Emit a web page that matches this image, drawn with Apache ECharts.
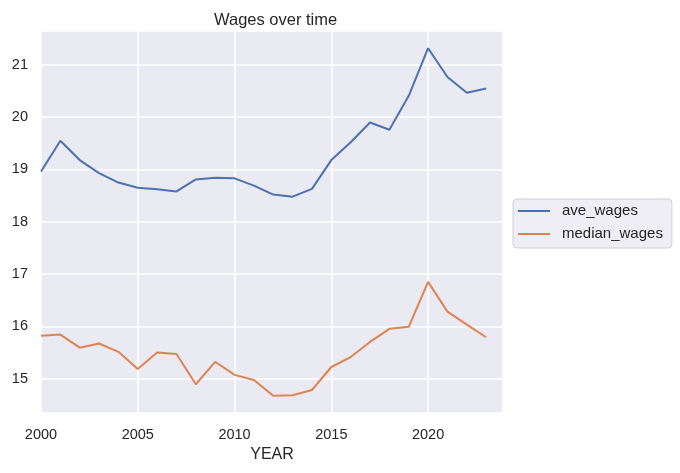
<!DOCTYPE html>
<html>
<head>
<meta charset="utf-8">
<script src="https://cdn.jsdelivr.net/npm/echarts@6/dist/echarts.min.js"></script>
<style>html,body{margin:0;padding:0;background:#fff}#c{width:680px;height:473px}</style>
</head>
<body>
<div id="c"></div>
<script>
var years = [2000,2001,2002,2003,2004,2005,2006,2007,2008,2009,2010,2011,2012,2013,2014,2015,2016,2017,2018,2019,2020,2021,2022,2023];
var aveWages = [18.96,19.55,19.18,18.93,18.75,18.65,18.62,18.58,18.81,18.84,18.83,18.69,18.52,18.48,18.63,19.18,19.52,19.90,19.76,20.41,21.32,20.77,20.47,20.55];
var medianWages = [15.82,15.84,15.59,15.67,15.51,15.18,15.50,15.47,14.89,15.32,15.07,14.97,14.67,14.68,14.78,15.22,15.41,15.70,15.95,15.99,16.85,16.28,16.03,15.79];
var xTicks = [2000,2005,2010,2015,2020];
var yTicks = [15,16,17,18,19,20,21];

var FONT = 'Liberation Sans, Arial, sans-serif';
var TXT = '#262626';
function pairs(vals){ return years.map(function(y,i){ return [y, vals[i]]; }); }

var chart = echarts.init(document.getElementById('c'), null, {renderer:'canvas'});
chart.setOption({
  animation: false,
  backgroundColor: '#ffffff',
  textStyle: {fontFamily: FONT, color: TXT},
  title: {
    text: 'Wages over time',
    left: 209, top: 7,
    textStyle: {fontFamily: FONT, fontSize: 16.5, fontWeight: 'normal', color: TXT}
  },
  grid: {left: 41, top: 31, right: 177, bottom: 60, containLabel: false,
         show: true, backgroundColor: '#eaeaf2', borderWidth: 0},
  legend: {
    orient: 'vertical',
    left: 513, top: 199,
    icon: 'rect',
    itemWidth: 32, itemHeight: 2, itemGap: 5,
    padding: [3, 9, 5, 5],
    backgroundColor: '#eeeef4',
    borderColor: '#d0d0d8', borderWidth: 1, borderRadius: 4,
    textStyle: {fontFamily: FONT, fontSize: 15, color: TXT, padding: [0,0,0,7], lineHeight: 18},
    data: ['ave_wages', 'median_wages']
  },
  xAxis: {
    type: 'value',
    min: 2000, max: 2023.87, interval: 5,
    name: 'YEAR', nameLocation: 'middle', nameGap: 33,
    nameTextStyle: {fontFamily: FONT, fontSize: 16, color: TXT},
    axisLine: {show: false}, axisTick: {show: false},
    axisLabel: {
      margin: 14, fontFamily: FONT, fontSize: 14.5, color: TXT,
      showMaxLabel: false,
      formatter: function(v){ return xTicks.indexOf(v) >= 0 ? String(v) : ''; }
    },
    splitLine: {show: true, lineStyle: {color: '#ffffff', width: 1.5}}
  },
  yAxis: {
    type: 'value',
    min: 14.34, max: 21.65, splitNumber: 7,
    axisLine: {show: false}, axisTick: {show: false},
    axisLabel: {
      margin: 13, fontFamily: FONT, fontSize: 14.5, color: TXT,
      showMinLabel: false, showMaxLabel: false,
      formatter: function(v){ return yTicks.indexOf(Math.round(v*1000)/1000) >= 0 ? String(v) : ''; }
    },
    splitLine: {show: true, lineStyle: {color: '#ffffff', width: 1.5}}
  },
  series: [
    {name: 'ave_wages', type: 'line', data: pairs(aveWages), symbol: 'none', showSymbol: false,
     lineStyle: {color: '#4c72b0', width: 2}, itemStyle: {color: '#4c72b0'}},
    {name: 'median_wages', type: 'line', data: pairs(medianWages), symbol: 'none', showSymbol: false,
     lineStyle: {color: '#dd8452', width: 2}, itemStyle: {color: '#dd8452'}}
  ]
});
</script>
</body>
</html>
